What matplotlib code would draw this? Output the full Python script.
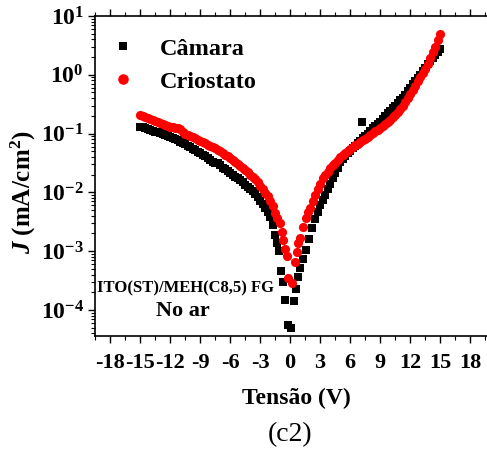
import numpy as np
import matplotlib
matplotlib.use("Agg")
import matplotlib.pyplot as plt
from matplotlib.ticker import MultipleLocator, LogLocator, FixedLocator

plt.rcParams['font.family'] = 'Liberation Serif'
plt.rcParams['mathtext.fontset'] = 'custom'
plt.rcParams['mathtext.rm'] = 'Liberation Serif'
plt.rcParams['mathtext.it'] = 'Liberation Serif:italic'
plt.rcParams['mathtext.bf'] = 'Liberation Serif:bold'
plt.rcParams['mathtext.bfit'] = 'Liberation Serif:bold:italic'

# Câmara (quadrados pretos)
v_camara = [-15.0, -14.75, -14.5, -14.25, -14.0, -13.75, -13.5, -13.25, -13.0, -12.75,
            -12.5, -12.25, -12.0, -11.75, -11.5, -11.25, -11.0, -10.75, -10.5, -10.25,
            -10.0, -9.75, -9.5, -9.25, -9.0, -8.75, -8.5, -8.25, -8.0, -7.75,
            -7.5, -7.25, -7.0, -6.75, -6.5, -6.25, -6.0, -5.75, -5.5, -5.25,
            -5.0, -4.75, -4.5, -4.25, -4.0, -3.75, -3.5, -3.25, -3.0, -2.75,
            -2.5, -2.25, -2.0, -1.75, -1.5, -1.3, -1.1, -0.9, -0.7, -0.5,
            -0.2, 0.1, 0.4, 0.6, 0.8, 1.0, 1.3, 1.6, 1.9, 2.2,
            2.5, 2.75, 3.0, 3.25, 3.5, 3.75, 4.0, 4.25, 4.5, 4.75,
            5.0, 5.25, 5.5, 5.75, 6.0, 6.25, 6.5, 6.75, 7.0, 7.2,
            7.25, 7.5, 7.75, 8.0, 8.25, 8.5, 8.75, 9.0, 9.25, 9.5,
            9.75, 10.0, 10.25, 10.5, 10.75, 11.0, 11.25, 11.5, 11.75, 12.0,
            12.25, 12.5, 12.75, 13.0, 13.25, 13.5, 13.75, 14.0, 14.25, 14.5,
            14.75, 15.0]
j_camara = [0.130, 0.127, 0.123, 0.120, 0.116, 0.112, 0.108, 0.105, 0.101, 0.098,
            0.094, 0.090, 0.087, 0.084, 0.080, 0.077, 0.073, 0.069, 0.066, 0.062,
            0.058, 0.055, 0.052, 0.049, 0.046, 0.043, 0.041, 0.038, 0.036, 0.033,
            0.031, 0.031, 0.029, 0.026, 0.025, 0.023, 0.021, 0.0198, 0.0185, 0.0172,
            0.016, 0.0148, 0.0135, 0.0125, 0.0115, 0.0104, 0.0092, 0.0082, 0.0072, 0.0063,
            0.0055, 0.0046, 0.0038, 0.0028, 0.0019, 0.0014, 0.00100, 0.00046, 0.00030, 0.00015,
            0.000055, 0.000050, 0.00014, 0.00023, 0.00036, 0.00052, 0.00074, 0.00105, 0.0016, 0.0025,
            0.0035, 0.0046, 0.0060, 0.0074, 0.0090, 0.0112, 0.014, 0.0172, 0.021, 0.026,
            0.033, 0.037, 0.042, 0.046, 0.051, 0.056, 0.062, 0.068, 0.075, 0.158,
            0.083, 0.092, 0.100, 0.110, 0.122, 0.135, 0.147, 0.160, 0.180, 0.200,
            0.222, 0.245, 0.272, 0.300, 0.335, 0.37, 0.41, 0.46, 0.53, 0.60,
            0.69, 0.78, 0.89, 1.00, 1.14, 1.30, 1.50, 1.70, 1.92, 2.15,
            2.42, 2.70]

# Criostato (círculos vermelhos)
v_criostato = [-15.0, -14.75, -14.5, -14.25, -14.0, -13.75, -13.5, -13.25, -13.0, -12.75,
               -12.5, -12.25, -12.0, -11.75, -11.5, -11.25, -11.0, -10.75, -10.5, -10.25,
               -10.0, -9.75, -9.5, -9.25, -9.0, -8.75, -8.5, -8.25, -8.0, -7.75,
               -7.5, -7.25, -7.0, -6.75, -6.5, -6.25, -6.0, -5.75, -5.5, -5.25,
               -5.0, -4.75, -4.5, -4.25, -4.0, -3.75, -3.5, -3.25, -3.0, -2.75,
               -2.5, -2.25, -2.0, -1.75, -1.5, -1.3, -1.0, -0.8, -0.7, -0.5,
               -0.3, -0.2, 0.2, 0.5, 0.7, 0.8, 1.0, 1.3, 1.6, 1.8,
               2.0, 2.25, 2.5, 2.75, 3.0, 3.25, 3.5, 3.75, 4.0, 4.25,
               4.5, 4.75, 5.0, 5.25, 5.5, 5.75, 6.0, 6.25, 6.5, 6.75,
               7.0, 7.25, 7.5, 7.75, 8.0, 8.25, 8.5, 8.75, 9.0, 9.25,
               9.5, 9.75, 10.0, 10.25, 10.5, 10.75, 11.0, 11.25, 11.5, 11.75,
               12.0, 12.25, 12.5, 12.75, 13.0, 13.25, 13.5, 13.75, 14.0, 14.25,
               14.5, 14.75, 15.0]
j_criostato = [0.205, 0.198, 0.190, 0.184, 0.178, 0.171, 0.165, 0.158, 0.152, 0.146,
               0.140, 0.135, 0.130, 0.128, 0.126, 0.122, 0.118, 0.106, 0.100, 0.095,
               0.090, 0.086, 0.083, 0.079, 0.076, 0.072, 0.069, 0.065, 0.062, 0.059,
               0.056, 0.053, 0.050, 0.047, 0.044, 0.041, 0.038, 0.0355, 0.033, 0.0305,
               0.028, 0.026, 0.024, 0.022, 0.020, 0.0185, 0.017, 0.015, 0.013, 0.0113,
               0.0098, 0.0085, 0.0072, 0.0058, 0.0045, 0.0036, 0.0030, 0.0021, 0.00155, 0.0011,
               0.00083, 0.00035, 0.00029, 0.00066, 0.00098, 0.0014, 0.0017, 0.0026, 0.0037, 0.0046,
               0.0055, 0.0071, 0.0090, 0.0112, 0.014, 0.0172, 0.0195, 0.022, 0.026, 0.029,
               0.032, 0.036, 0.040, 0.0435, 0.047, 0.051, 0.055, 0.059, 0.063, 0.067,
               0.072, 0.077, 0.082, 0.088, 0.095, 0.102, 0.110, 0.117, 0.125, 0.135,
               0.145, 0.157, 0.170, 0.19, 0.21, 0.235, 0.26, 0.30, 0.34, 0.40,
               0.48, 0.56, 0.65, 0.77, 0.90, 1.06, 1.25, 1.55, 1.90, 2.40,
               3.00, 3.85, 5.00]

x_ticks = [-18, -15, -12, -9, -6, -3, 0, 3, 6, 9, 12, 15, 18]
y_exps = [-4, -3, -2, -1, 0, 1]

fig = plt.figure(figsize=(4.87, 4.53), dpi=100)
ax = fig.add_axes([0.1951, 0.2583, 0.8255, 0.7064])

ax.plot(v_camara, j_camara, 's', color='black', ms=5.2, mew=0, label='Câmara')
ax.plot(v_criostato, j_criostato, 'o', color='red', ms=6.6, mew=0, label='Criostato')

ax.set_yscale('log')
ax.set_ylim(3.6e-5, 10)
ax.set_xlim(-19.5, 20.7)

ax.xaxis.set_major_locator(FixedLocator(x_ticks))
ax.xaxis.set_minor_locator(MultipleLocator(1.5))
ax.set_xticklabels([str(t) for t in x_ticks], fontsize=16, fontweight='bold')
ax.set_yticks([10.0 ** p for p in y_exps])
ax.yaxis.set_minor_locator(LogLocator(base=10, subs=np.arange(2, 10), numticks=20))
ax.set_yticklabels([r'$\mathbf{10^{%d}}$' % p for p in y_exps], fontsize=17)

ax.tick_params(which='major', direction='out', length=5, width=1, pad=3)
ax.tick_params(which='minor', direction='out', length=3, width=0.8)
ax.tick_params(axis='x', which='both', top=True, labeltop=False)
ax.tick_params(axis='x', which='major', pad=7)
ax.spines['right'].set_visible(False)
for s in ['left', 'bottom', 'top']:
    ax.spines[s].set_linewidth(1.2)

ax.set_xlabel('Tensão (V)', fontsize=17, fontweight='bold', labelpad=11)
ax.set_ylabel(r'$\mathbfit{J}$ (mA/cm$\mathbf{^2}$)', fontsize=18, fontweight='bold')
ax.yaxis.set_label_coords(-0.142, 0.45)

ax.text(-10.5, 1.5e-4 * 1.55, 'ITO(ST)/MEH(C8,5) FG', fontsize=12, fontweight='bold',
        ha='center', va='center')
ax.text(-10.7, 1.5e-4 * 0.65, 'No ar', fontsize=16, fontweight='bold',
        ha='center', va='center')

ax.legend(loc='upper left', bbox_to_anchor=(0.015, 0.9625), frameon=False,
          prop={'weight': 'bold', 'size': 17.5}, markerscale=1.15,
          handlelength=1.0, handletextpad=1.0, labelspacing=0.45,
          borderaxespad=0.0, borderpad=0.4)

fig.text(0.595, 0.04, '(c2)', fontsize=20, ha='center', va='center')

fig.savefig('out.png', dpi=100)
